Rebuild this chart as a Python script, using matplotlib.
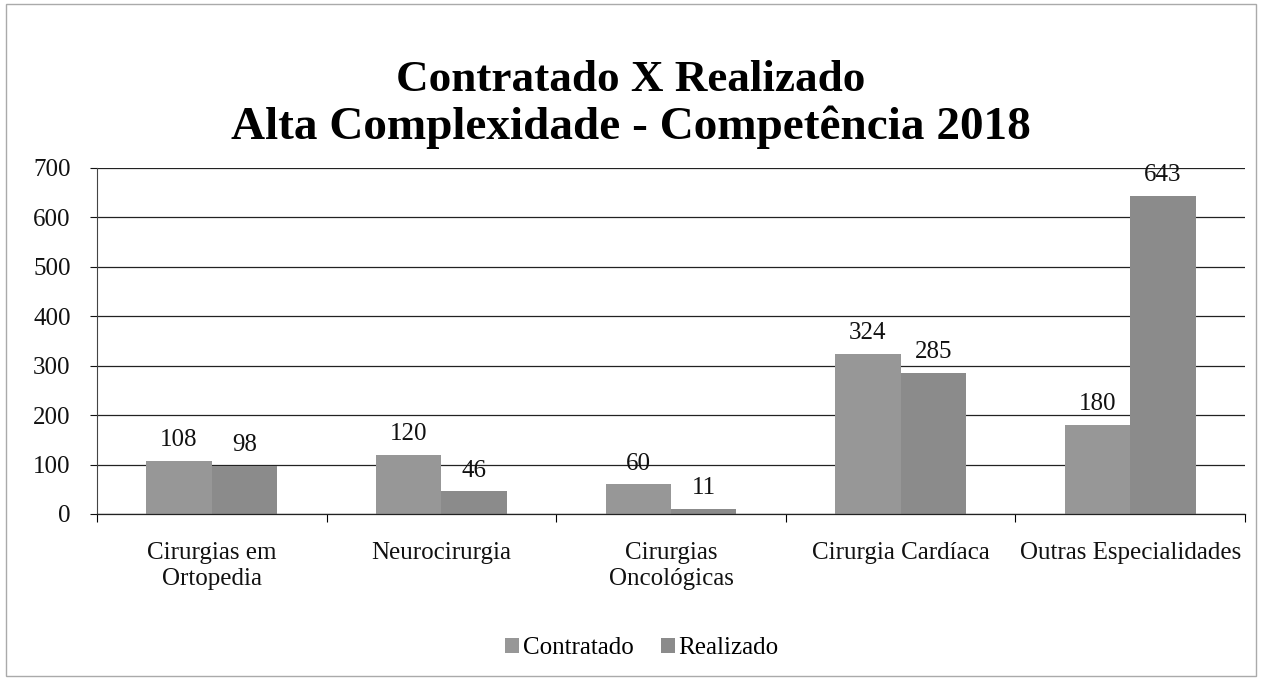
import matplotlib.pyplot as plt
import numpy as np
from matplotlib.patches import Rectangle

plt.rcParams['font.family'] = ['Liberation Serif', 'DejaVu Serif']

# data
categories = ["Cirurgias em\nOrtopedia", "Neurocirurgia", "Cirurgias\nOncológicas",
              "Cirurgia Cardíaca", "Outras Especialidades"]
contratado = [108, 120, 60, 324, 180]
realizado = [98, 46, 11, 285, 643]
y_ticks = [0, 100, 200, 300, 400, 500, 600, 700]

fig = plt.figure(figsize=(12.61, 6.79), dpi=100)
ax = fig.add_axes([97 / 1261, 1 - 514 / 679, 1148 / 1261, 346 / 679])

x = np.arange(len(categories))
w = 0.285
b1 = ax.bar(x - w / 2, contratado, w, color="#979797", label="Contratado", zorder=2)
b2 = ax.bar(x + w / 2, realizado, w, color="#8b8b8b", label="Realizado", zorder=2)

for bars, vals in ((b1, contratado), (b2, realizado)):
    for rect, v in zip(bars, vals):
        ax.annotate(str(v), (rect.get_x() + rect.get_width() / 2, v),
                    xytext=(0, 7), textcoords="offset points",
                    ha="center", va="bottom", fontsize=18, color="#111111")

ax.set_xlim(-0.5, len(categories) - 0.5)
ax.set_ylim(0, 700)
ax.set_yticks(y_ticks)
ax.tick_params(axis="y", labelsize=18, length=5, width=0.8, pad=14, colors="#111111")
ax.yaxis.grid(True, color="#222222", linewidth=0.9, zorder=0)
ax.set_axisbelow(True)

# category labels centered, tick marks at the boundaries
ax.set_xticks(x)
ax.set_xticklabels(categories, fontsize=18, color="#111111", linespacing=1.25)
ax.tick_params(axis="x", length=0, pad=20)
ax.set_xticks(np.arange(len(categories) + 1) - 0.5, minor=True)
ax.tick_params(axis="x", which="minor", length=6, width=0.8, direction="out")

for s in ("top", "right"):
    ax.spines[s].set_visible(False)
ax.spines["left"].set_color("#444444")
ax.spines["left"].set_linewidth(0.8)
ax.spines["bottom"].set_color("#222222")
ax.spines["bottom"].set_linewidth(0.9)

fig.text(0.5, 1 - 80 / 679, "Contratado X Realizado", ha="center", va="center",
         fontsize=32.5, fontweight="bold")
fig.text(0.5, 1 - 127 / 679, "Alta Complexidade - Competência 2018", ha="center", va="center",
         fontsize=34, fontweight="bold")

fig.legend(handles=[b1, b2], loc="center", bbox_to_anchor=(0.509, 1 - 648 / 679),
           ncol=2, frameon=False, fontsize=18, handlelength=0.55, handleheight=0.55,
           handletextpad=0.15, columnspacing=1.1)

fig.patches.append(Rectangle((6 / 1261, 3 / 679), 1250 / 1261, 672 / 679,
                             transform=fig.transFigure, fill=False,
                             edgecolor="#aaaaaa", linewidth=1))

fig.savefig("out.png", dpi=100)
